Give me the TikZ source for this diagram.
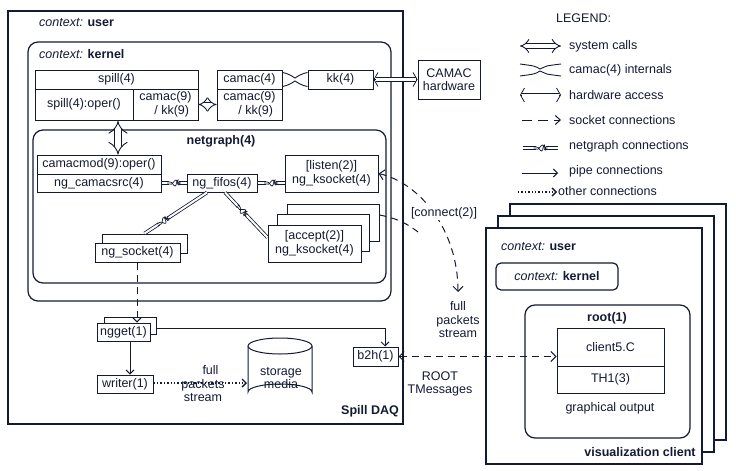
\documentclass[tikz,border=0pt]{standalone}
\usepackage{fontspec}
\setmainfont{Liberation Sans}
\usetikzlibrary{arrows.meta,shapes.geometric,calc}
\definecolor{ink}{HTML}{141A33}
\tikzset{
  x=1pt,y=-1pt,
  every node/.style={font=\fontsize{12.5}{13.5}\selectfont,text=ink,inner sep=1pt},
  bx/.style={draw=ink,line width=1pt,fill=white,align=center},
  rnd/.style={draw=ink,line width=1.2pt,rounded corners=10pt},
  sysc/.style={draw=ink,double=white,double distance=4pt,line width=0.9pt,{Implies[scale=1.3]}-{Implies[scale=1.3]}},
  bigsys/.style={draw=ink,double=white,double distance=6pt,line width=0.9pt,{Implies[scale=1.2]}-{Implies[scale=1.2]}},
  hwbarb/.style={draw=ink,line width=0.8pt,{Straight Barb[length=4pt,width=14pt]}-{Straight Barb[length=4pt,width=14pt]}},
  hwline/.style={draw=ink,double=white,double distance=3pt,line width=0.9pt},
  ngc/.style={draw=ink,double=white,double distance=2pt,line width=0.8pt},
  sock/.style={draw=ink,line width=1pt,dash pattern=on 7pt off 5pt},
  pipe/.style={draw=ink,line width=0.9pt,-{Straight Barb[length=4pt,width=8pt]}},
  oth/.style={draw=ink,line width=1.4pt,dotted,-{Straight Barb[length=4pt,width=8pt]}},
  knot/.pic={\fill[white] (-5,-3) rectangle (5,3);
    \draw[ink,line width=0.7pt] (-7,-1) -- (-4,-1) .. controls (-1,-1) and (-1,3) .. (1,3) .. controls (3,3) and (2,-3) .. (4,-3) -- (4,-1) .. controls (5,1) .. (7,1);
    \draw[ink,line width=0.7pt] (-7,1) -- (-4,1) .. controls (-2,3) and (0,-3) .. (2,-3) .. controls (4,-3) and (3,3) .. (5,2) -- (5,-1) -- (7,-1);}
}
\newcommand{\bx}[6]{\node[bx,minimum width={(#4-#2)*1pt},minimum height={(#5-#3)*1pt}] (#1) at ({(#2+#4)/2},{(#3+#5)/2}) {#6};}
\newcommand{\ctx}[1]{\textit{context:} \textbf{#1}}
\begin{document}
\begin{tikzpicture}
\useasboundingbox (0,0) rectangle (736,471);
% outer user box
\draw[ink,line width=1.2pt] (8,11) rectangle (403,424);
\node[anchor=west] (cu) at (38,23) {\ctx{user}};
\node[anchor=east] (sd) at (400,411) {\textbf{Spill DAQ}};
% kernel
\draw[rnd] (28,42) rectangle (391,301);
\node[anchor=west] (ck) at (38,54) {\ctx{kernel}};
% spill table
\bx{spillh}{35}{70}{198}{89}{spill(4)}
\bx{spillo}{35}{89}{133}{120}{spill(4):oper()}
\bx{spillc}{133}{89}{198}{120}{camac(9)\\\hspace*{1em}/ kk(9)}
% camac table
\bx{camh}{217}{70}{282}{89}{camac(4)}
\bx{camc}{217}{89}{282}{120}{camac(9)\\\hspace*{1em}/ kk(9)}
\bx{kk}{308}{70}{373}{89}{kk(4)}
\bx{hw}{418}{60}{480}{99}{CAMAC\\hardware}
% camac internals
\draw[ink,line width=0.9pt] ($(camh.north east)+(0,3)$) .. controls (290,74) and (293,77) .. (295,78) .. controls (297,77) and (300,74) .. ($(kk.north west)+(0,3)$);
\draw[ink,line width=0.9pt] ($(camh.south east)+(0,-3)$) .. controls (290,85) and (293,82) .. (295,81) .. controls (297,82) and (300,85) .. ($(kk.south west)+(0,-3)$);
% system call
\draw[sysc] (spillc.east) -- (camc.west);
% hardware access
\draw[hwbarb] (kk.east) -- (hw.west);
\draw[hwline] ([xshift=2pt]kk.east) -- ([xshift=-2pt]hw.west);
% netgraph
\draw[rnd] (33,130) rectangle (386,283);
\node (ngl) at (221,141) {\textbf{netgraph(4)}};
\bx{cmod}{37}{155}{161}{174}{camacmod(9):oper()}
\bx{csrc}{37}{174}{161}{192}{ng\_camacsrc(4)}
\draw[bigsys] (118,121) -- (cmod.north -| 118,0);
\bx{fifo}{187}{174}{257}{192}{ng\_fifos(4)}
\bx{lis}{285}{155}{378}{192}{[listen(2)]\\ng\_ksocket(4)}
\bx{acc3}{287}{204}{379}{241}{}
\bx{acc2}{277}{214}{369}{251}{}
\bx{acc}{268}{225}{361}{262}{[accept(2)]\\ng\_ksocket(4)}
\bx{sock2}{102}{234}{187}{253}{}
\bx{sock}{95}{243}{180}{262}{ng\_socket(4)}
% netgraph connections
\draw[ngc] (csrc.east) -- (fifo.west);
\pic at ($(csrc.east)!0.5!(fifo.west)$) {knot};
\draw[ngc] (fifo.east) -- (lis.west |- fifo.east);
\pic at ($(fifo.east)!0.5!(lis.west |- fifo.east)$) {knot};
\draw[ngc] ([xshift=-15pt]fifo.south) -- (sock2.north) pic[pos=0.7,sloped]{knot};
\draw[ngc] ([xshift=3pt]fifo.south) -- ([yshift=-13pt]acc.north west) pic[pos=0.4,sloped]{knot};
% lower DAQ
\bx{ngget2}{104}{317}{156}{334}{}
\bx{ngget}{97}{323}{150}{341}{ngget(1)}
\bx{writer}{97}{375}{153}{393}{writer(1)}
\bx{b2h}{353}{347}{398}{366}{b2h(1)}
\draw[sock,-{Straight Barb[length=4pt,width=8pt]}] (sock.south -| 137,0) -- (ngget.north -| 137,0);
\draw[pipe] (ngget.south -| 130,0) -- (writer.north -| 130,0);
\draw[pipe] (ngget2.east |- 0,328) -- (385,328) -- (b2h.north -| 385,0);
% storage
\draw[ink,line width=1pt,fill=white] (248,346) -- (248,392) arc[start angle=180,end angle=360,x radius=32,y radius=8] -- (312,346);
\draw[ink,line width=1pt,fill=white] (280,346) ellipse[x radius=32,y radius=8];
\node[align=center] (stor) at (281,378) {storage\\media};
\coordinate (storL) at (247,383);
\draw[oth] (writer.east |- storL) -- (storL);
\node[align=center,inner sep=0pt] (fps) at (203,384) {\hspace*{1.2em}full\\packets\\stream};
% connect
\draw[sock,{Straight Barb[length=5pt,width=10pt]}-{Straight Barb[length=5pt,width=10pt]}] (lis.east) .. controls (420,183) and (458,230) .. (458,292);
\draw[sock] (acc3.east |- 0,215) .. controls (395,218) and (405,222) .. (418,232);
\node[fill=white] (con) at (444,213) {[connect(2)]};
\node[align=center] (fps2) at (458,320) {full\\packets\\stream};
% visualization client
\draw[ink,line width=1.2pt,fill=white] (510,204) rectangle (726,440);
\draw[ink,line width=1.2pt,fill=white] (498,216) rectangle (714,452);
\draw[ink,line width=1.2pt,fill=white] (486,228) rectangle (702,464);
\node[anchor=west] (vcu) at (500,247) {\ctx{user}};
\draw[rnd,rounded corners=5pt] (496,263) rectangle (618,290);
\node (vck) at (557,276) {\ctx{kernel}};
\draw[rnd] (525,305) rectangle (690,438);
\node (root) at (607,318) {\textbf{root(1)}};
\bx{cl}{557}{328}{664}{366}{client5.C}
\bx{th}{557}{366}{664}{393}{TH1(3)}
\node (go) at (610,408) {graphical output};
\node (vcl) at (640,452) {\textbf{visualization client}};
\draw[sock,{Straight Barb[length=5pt,width=10pt]}-{Straight Barb[length=5pt,width=10pt]}] (b2h.east) -- (cl.west |- b2h.east);
\node[align=center] (rtm) at (440,384) {ROOT\\TMessages};
% legend
\node[anchor=west] (lg) at (555,18) {LEGEND:};
\coordinate (l1a) at (520,46); \coordinate (l1b) at (561,46);
\draw[sysc] (l1a) -- (l1b); \node[anchor=west] (t1) at (568,46) {system calls};
\coordinate (l2a) at (520,70); \coordinate (l2b) at (561,70);
\draw[ink,line width=0.9pt] (520,64) .. controls (535,66) .. (540,69) .. controls (545,66) .. (561,64);
\draw[ink,line width=0.9pt] (520,76) .. controls (535,74) .. (540,71) .. controls (545,74) .. (561,76);
\node[anchor=west] (t2) at (568,70) {camac(4) internals};
\coordinate (l3a) at (520,95); \coordinate (l3b) at (561,95);
\draw[hwbarb] (l3a) -- (l3b); \draw[hwline] (522,95) -- (559,95);
\node[anchor=west] (t3) at (568,95) {hardware access};
\coordinate (l4a) at (522,120); \coordinate (l4b) at (561,120);
\draw[sock,dash pattern=on 10pt off 6pt,-{Straight Barb[length=5pt,width=9pt]}] (l4a) -- (l4b);
\node[anchor=west] (t4) at (568,120) {socket connections};
\coordinate (l5a) at (523,148); \coordinate (l5b) at (558,148);
\draw[ngc] (l5a) -- (l5b);
\pic at ($(l5a)!0.5!(l5b)$) {knot};
\node[anchor=west] (t5) at (568,146) {netgraph connections};
\coordinate (l6a) at (522,173); \coordinate (l6b) at (558,173);
\draw[pipe] (l6a) -- (l6b); \node[anchor=west] (t6) at (568,171) {pipe connections};
\coordinate (l7a) at (518,192); \coordinate (l7b) at (557,192);
\draw[oth] (l7a) -- (l7b); \node[anchor=west] (t7) at (557,191) {other connections};
\end{tikzpicture}
\end{document}
